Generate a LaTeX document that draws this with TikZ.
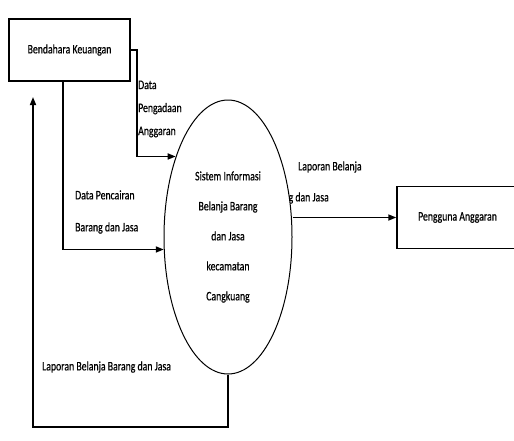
\documentclass[tikz,border=0pt]{standalone}
\usepackage{fontspec}
\setmainfont{Carlito}[FakeStretch=0.75, FakeBold=0.5]
\usetikzlibrary{arrows.meta, shapes.geometric}

\begin{document}
\begin{tikzpicture}[x=1pt, y=-1pt,
    entitas/.style={draw, line width=1.4pt, rectangle, minimum width=121pt,
        minimum height=62pt, font=\fontsize{13}{15}\selectfont},
    proses/.style={draw, line width=1pt, ellipse, fill=white, inner sep=0pt,
        minimum width=128pt, minimum height=274pt, align=center,
        font=\fontsize{13}{30}\selectfont},
    aliran/.style={line width=1.6pt, -{Triangle[length=8pt,width=6pt]}},
    ket/.style={inner sep=0pt, align=left, font=\fontsize{13}{23}\selectfont}]

    % batas gambar
    \useasboundingbox (0,0) rectangle (514,440);

    % ==========================================
    % ENTITAS LUAR
    % ==========================================
    \node[entitas] (bk) at (69.5,50) {Bendahara Keuangan};
    \node[entitas] (pa) at (457.5,217.5) {Pengguna Anggaran};

    % label keluaran (sebagian tertutup proses)
    \node[ket, anchor=west] (lapatas) at (298,167) {Laporan Belanja};
    \node[ket, anchor=east] (lapbawah) at (329,198) {Barang dan Jasa};

    % ==========================================
    % PROSES
    % ==========================================
    \node[proses] (sis) at (228,237)
        {Sistem Informasi\\Belanja Barang\\dan Jasa\\kecamatan\\Cangkuang};

    % ==========================================
    % ALIRAN DATA
    % ==========================================
    % Data Pengadaan Anggaran
    \draw[aliran] (bk.east) -- ++(6,0) |- (sis.123);
    \node[ket, anchor=west] (pengadaan) at (138,109) {Data\\Pengadaan\\Anggaran};

    % Data Pencairan Barang dan Jasa
    \draw[aliran] ([xshift=-6.5pt]bk.south) |- (sis.191);
    \node[ket, anchor=west, font=\fontsize{13}{32}\selectfont] (pencairan) at (75,212)
        {Data Pencairan\\Barang dan Jasa};

    % Laporan ke pengguna anggaran
    \draw[aliran] (sis.east |- pa.west) -- (pa.west);

    % Laporan balik ke bendahara
    \coordinate (balik) at (33,97);
    \draw[aliran] (sis.south) -- (sis.south |- 0,427) -| (balik);
    \node[ket, anchor=west] (lapbalik) at (42,367) {Laporan Belanja Barang dan Jasa};

\end{tikzpicture}
\end{document}
